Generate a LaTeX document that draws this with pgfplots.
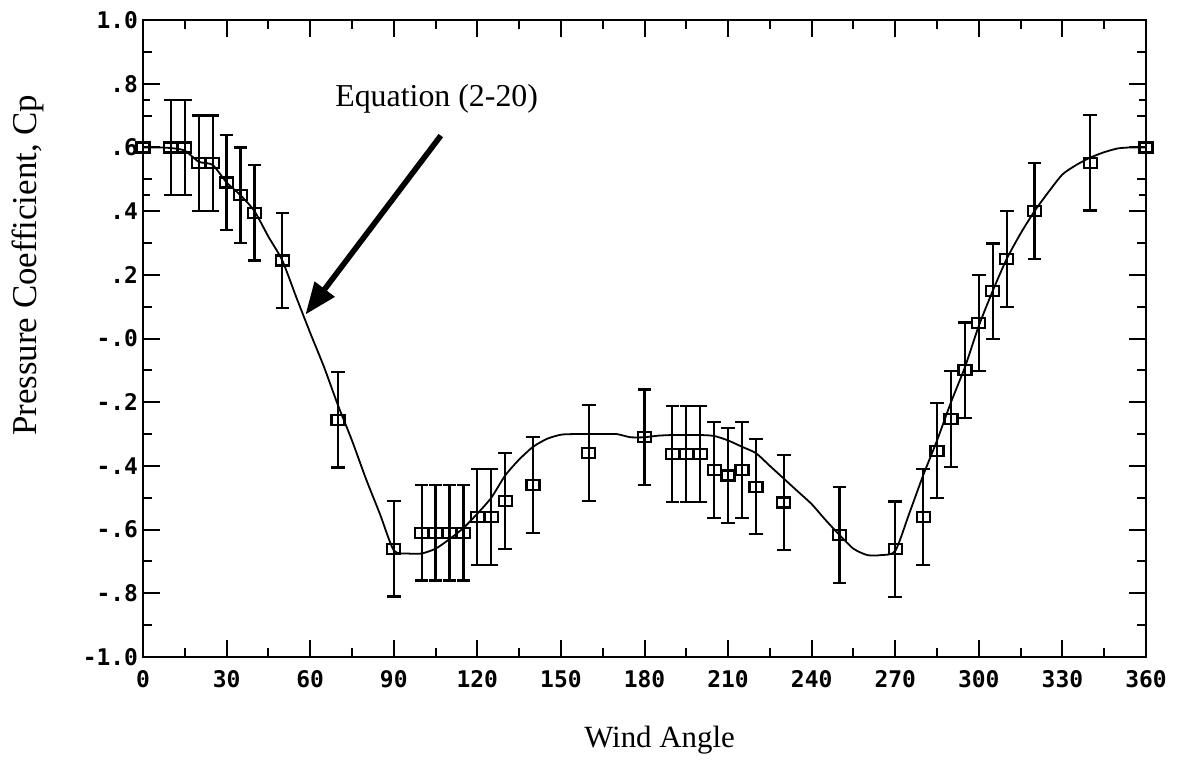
\documentclass[border=0pt]{standalone}
\usepackage{pgfplots}
\pgfplotsset{compat=1.18}
\usetikzlibrary{arrows.meta}
\usepackage{fontspec}
\setmainfont{Liberation Serif}
\newfontfamily\tickfont{DejaVu Sans Mono}

\pgfplotstableread{
ang cp
0 0.60
10 0.60
15 0.60
20 0.55
25 0.55
30 0.49
35 0.45
40 0.395
50 0.245
70 -0.255
90 -0.66
100 -0.61
105 -0.61
110 -0.61
115 -0.61
120 -0.56
125 -0.56
130 -0.51
140 -0.46
160 -0.36
180 -0.31
190 -0.363
195 -0.363
200 -0.363
205 -0.413
210 -0.43
215 -0.413
220 -0.465
230 -0.515
250 -0.617
270 -0.662
280 -0.56
285 -0.352
290 -0.253
295 -0.10
300 0.049
305 0.148
310 0.25
320 0.40
340 0.552
360 0.60
}\measured

\pgfplotstableread{
ang cp
0 0.600
5 0.600
10 0.598
15 0.590
20 0.555
25 0.545
30 0.49
35 0.45
40 0.40
45 0.32
50 0.245
55 0.13
60 0.018
65 -0.09
70 -0.21
75 -0.32
80 -0.44
85 -0.55
90 -0.665
95 -0.675
100 -0.675
105 -0.66
110 -0.63
115 -0.595
120 -0.55
125 -0.50
130 -0.43
135 -0.38
140 -0.34
145 -0.315
150 -0.302
155 -0.30
160 -0.30
165 -0.30
170 -0.30
175 -0.31
180 -0.31
185 -0.305
190 -0.303
195 -0.303
200 -0.303
205 -0.306
210 -0.32
215 -0.34
220 -0.36
225 -0.40
230 -0.44
235 -0.48
240 -0.52
245 -0.57
250 -0.617
255 -0.66
260 -0.68
265 -0.68
270 -0.667
275 -0.55
280 -0.43
285 -0.32
290 -0.20
295 -0.09
300 0.04
305 0.15
310 0.25
315 0.33
320 0.40
325 0.46
330 0.515
335 0.545
340 0.568
345 0.585
350 0.597
355 0.60
360 0.60
}\equation

\begin{document}
\begin{tikzpicture}[x=1bp,y=1bp]
\path[use as bounding box] (-71.5,-53) rectangle (520,328.5);
\begin{axis}[
  at={(0,0)}, anchor=south west, scale only axis,
  width=501.5bp, height=318.5bp,
  xmin=0, xmax=360, ymin=-1, ymax=1,
  xtick={0,30,60,90,120,150,180,210,240,270,300,330,360},
  xticklabels={0,30,60,90,120,150,180,210,240,270,300,330,360},
  minor xtick={15,45,75,105,135,165,195,225,255,285,315,345},
  ytick={-1,-0.8,-0.6,-0.4,-0.2,0,0.2,0.4,0.6,0.8,1},
  yticklabels={-1.0,-.8,-.6,-.4,-.2,-.0,.2,.4,.6,.8,1.0},
  minor ytick={-0.9,-0.7,-0.5,-0.3,-0.1,0.1,0.3,0.5,0.7,0.9},
  tick align=inside,
  major tick length=8.5bp, minor tick length=4.5bp,
  every tick/.style={line width=1bp, black},
  axis line style={line width=1.3bp},
  ticklabel style={font=\tickfont\bfseries\fontsize{11.5}{11.5}\selectfont},
  xticklabel style={yshift=-3bp},
  yticklabel style={xshift=1bp},
  xlabel={Wind Angle},
  ylabel={Pressure Coefficient, Cp},
  xlabel style={font=\fontsize{15.5}{15.5}\selectfont, at={(axis description cs:0.515,0)}, anchor=center, yshift=-41.5bp},
  ylabel style={font=\fontsize{17.5}{17.5}\selectfont, at={(axis description cs:0,0.615)}, anchor=center, yshift=57.5bp},
]
\addplot[black, line width=0.9bp, smooth, tension=0.4] table[x=ang,y=cp] {\equation};
\addplot[black, only marks, mark=square,
  mark options={draw=black, line width=1.1bp, xscale=1.3},
  mark size=2.5bp,
  error bars/.cd, y dir=both, y fixed=0.15,
  error bar style={line width=1.1bp, black},
  error mark options={rotate=90, mark size=3.4bp, line width=1.1bp, black}
] table[x=ang,y=cp] {\measured};
\draw[line width=2.8bp, -{Triangle[length=16bp,width=12bp]}] (axis cs:106.9,0.637) -- (axis cs:58.3,0.075);
\node[font=\fontsize{16}{16}\selectfont] at (axis cs:105.4,0.754) {Equation (2-20)};
\end{axis}
\end{tikzpicture}
\end{document}
